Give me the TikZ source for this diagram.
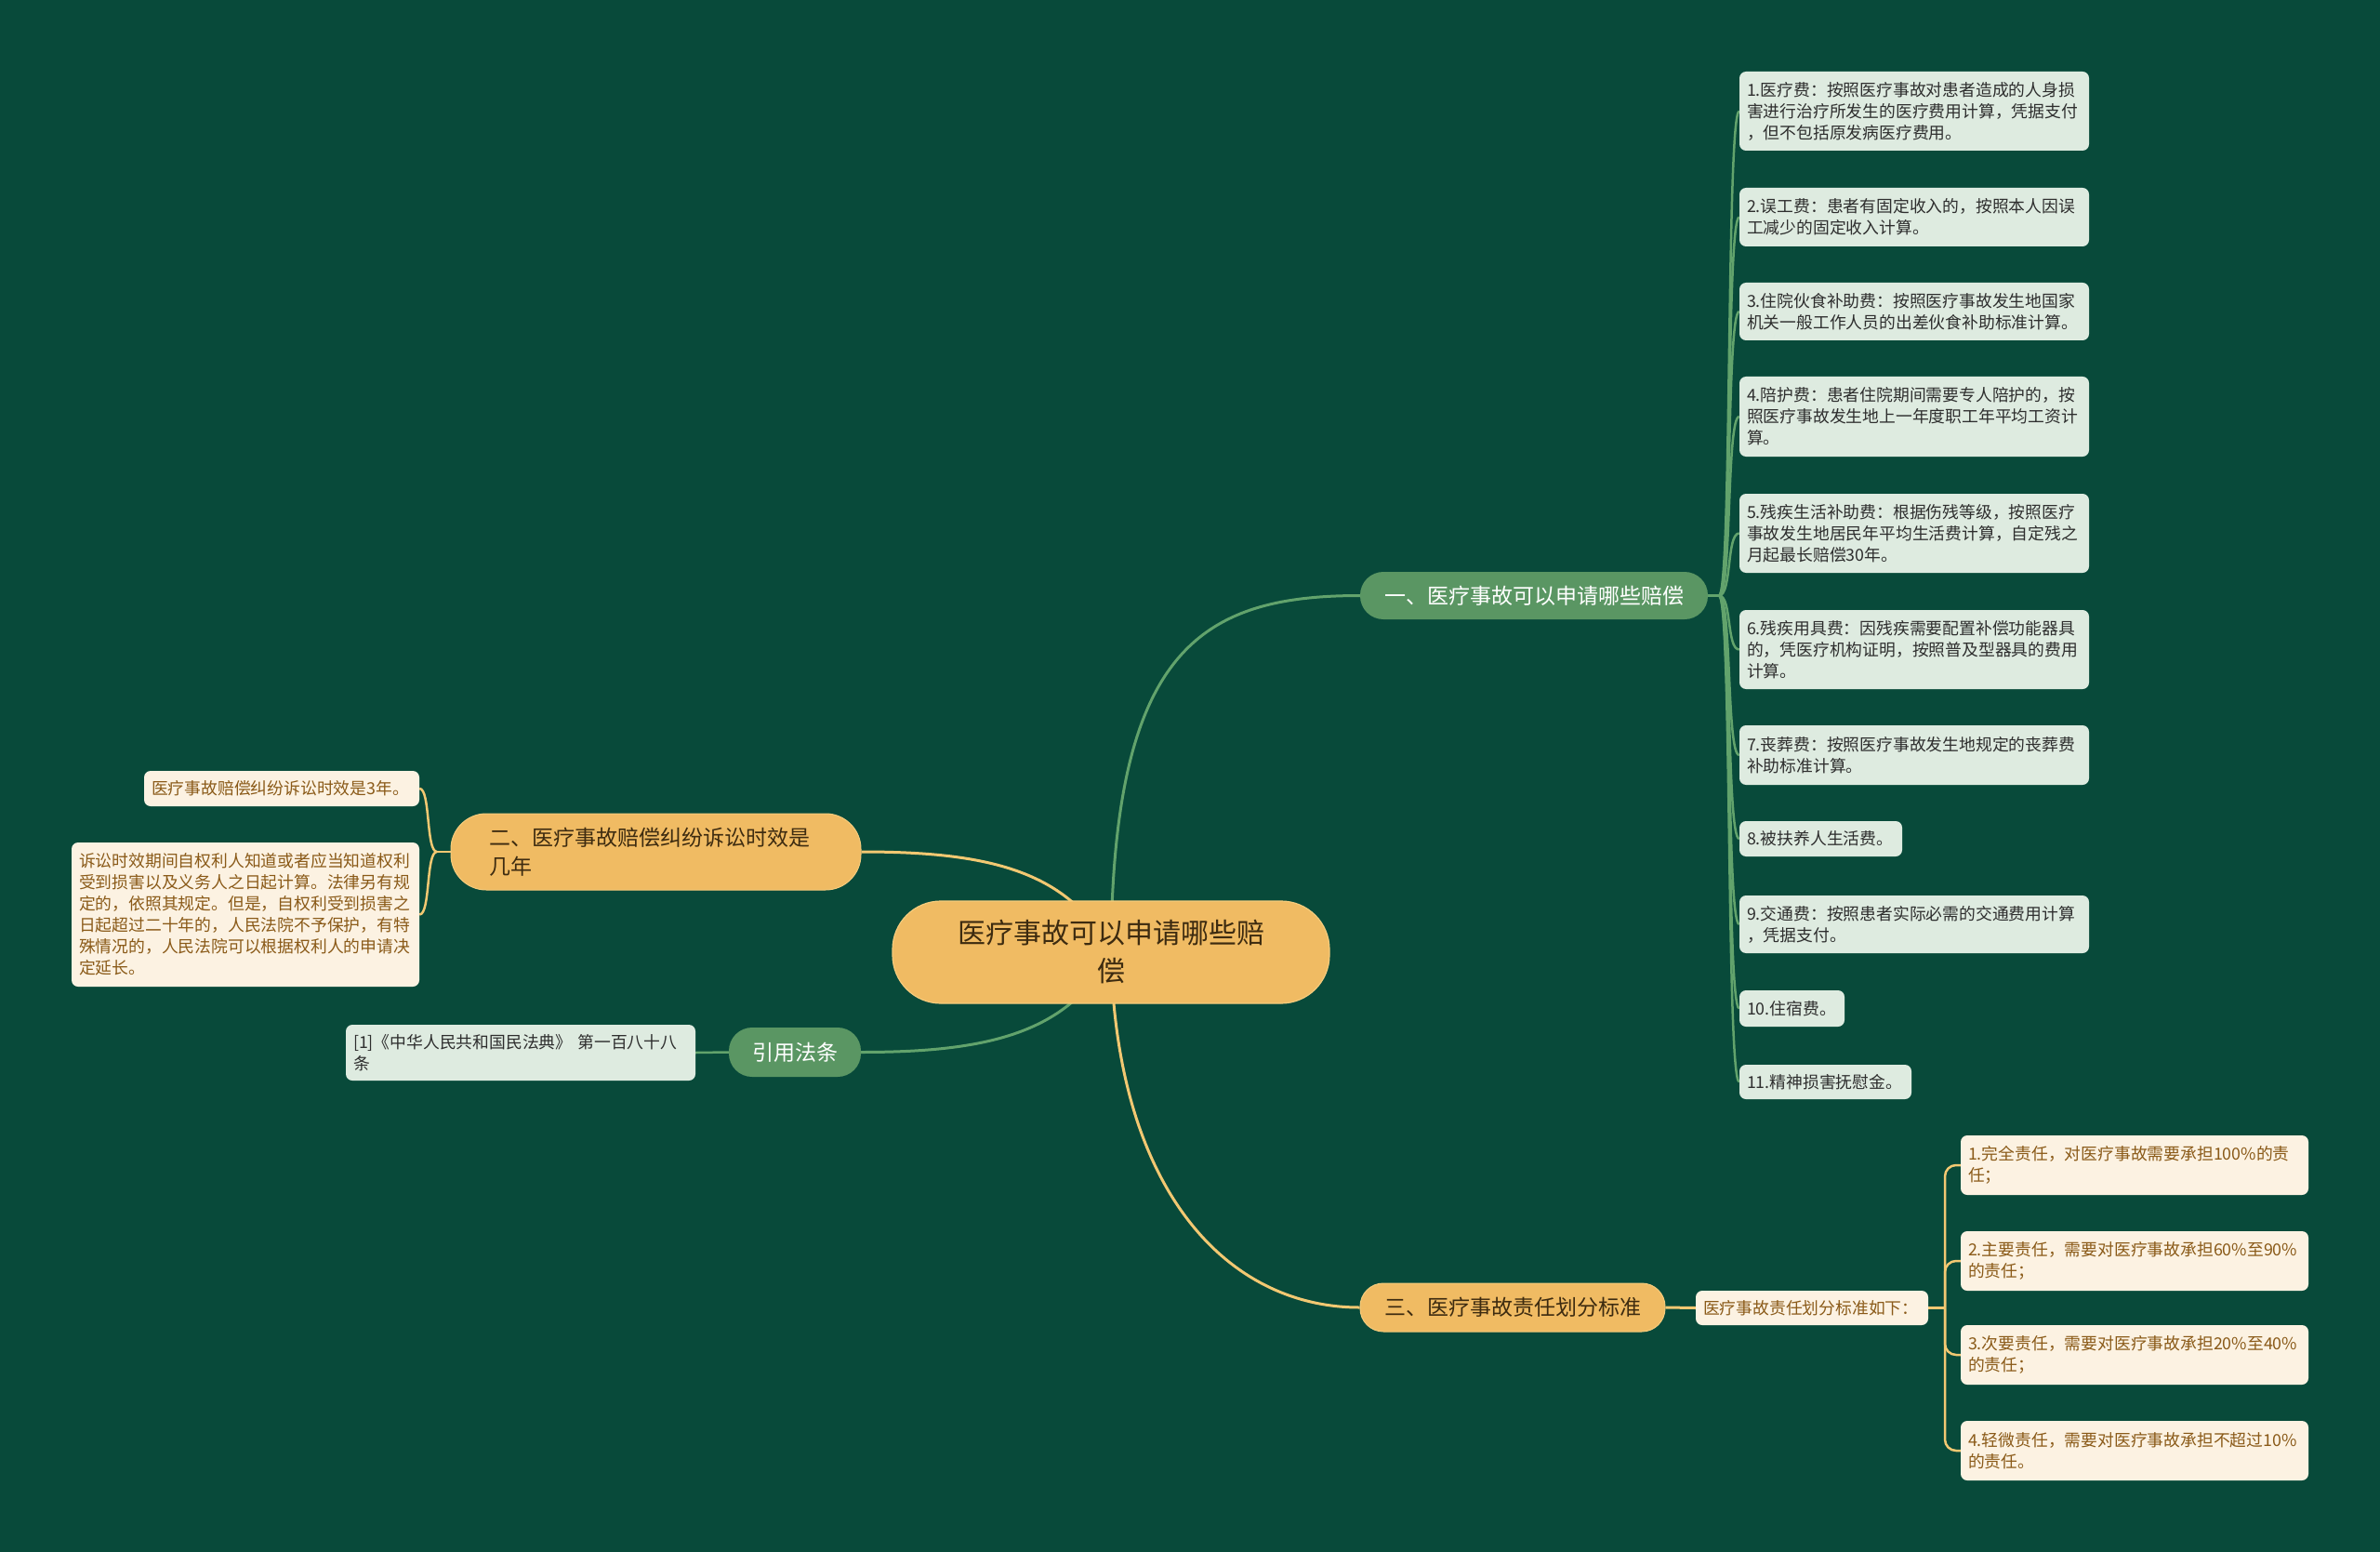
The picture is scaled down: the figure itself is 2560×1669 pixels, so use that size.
\documentclass[tikz,border=0pt]{standalone}
\usepackage{fontspec}
\setmainfont{Noto Sans CJK SC}
\definecolor{bgc}{HTML}{084A3A}
\definecolor{gfill}{HTML}{5A9663}
\definecolor{ofill}{HTML}{F0BB63}
\definecolor{oborder}{HTML}{F5CB7C}
\definecolor{otext}{HTML}{3D2B10}
\definecolor{lgfill}{HTML}{DEEBE0}
\definecolor{lgtext}{HTML}{2E2E2E}
\definecolor{lofill}{HTML}{FCF2E2}
\definecolor{lotext}{HTML}{8A5A18}
\definecolor{gline}{HTML}{62A36C}
\definecolor{oline}{HTML}{F2C872}
\pgfdeclarelayer{back}
\pgfdeclarelayer{edges}
\pgfsetlayers{back,edges,main}
\tikzset{
  rootnode/.style={rectangle, rounded corners=52, fill=ofill, draw=oborder, line width=1.2pt, text=otext,
    font=\fontsize{30}{41}\selectfont, align=center, inner sep=0pt},
  gbranch/.style={rectangle, rounded corners=25, fill=gfill, text=white,
    font=\fontsize{23}{31}\selectfont, align=center, inner sep=0pt},
  obranch/.style={rectangle, rounded corners=25, fill=ofill, draw=oborder, line width=1pt, text=otext,
    font=\fontsize{23}{31}\selectfont, align=left, inner ysep=0pt},
  leafg/.style={rectangle, rounded corners=7, fill=lgfill, text=lgtext,
    font=\fontsize{17.8}{23}\selectfont, align=left, inner xsep=8pt, inner ysep=0pt},
  leafo/.style={rectangle, rounded corners=7, fill=lofill, text=lotext,
    font=\fontsize{17.8}{23}\selectfont, align=left, inner xsep=8pt, inner ysep=0pt},
  gmain/.style={draw=gline, line width=3pt},
  omain/.style={draw=oline, line width=3pt},
  gthin/.style={draw=gline, line width=2.5pt},
  othin/.style={draw=oline, line width=2.5pt},
}
\begin{document}
\begin{tikzpicture}[x=1pt,y=-1pt]
\begin{pgfonlayer}{back}
\fill[bgc] (0,0) rectangle (2560,1669);
\end{pgfonlayer}
\useasboundingbox (0,0) rectangle (2560,1669);

% root
\node[rootnode, minimum width=470pt, minimum height=110pt] (c) at (1195,1024) {医疗事故可以申请哪些赔\\偿};

% branches
\node[gbranch, minimum width=374pt, minimum height=51pt] (b1) at (1650,640.5) {一、医疗事故可以申请哪些赔偿};
\node[obranch, inner xsep=41pt, text width=359pt, minimum height=82pt, rounded corners=38] (b2) at (705.5,916) {二、医疗事故赔偿纠纷诉讼时效是\\几年};
\node[gbranch, minimum width=142pt, minimum height=53pt] (q) at (855,1131.5) {引用法条};
\node[obranch, inner xsep=0pt, align=center, minimum width=328pt, minimum height=52pt] (b3) at (1627,1406) {三、医疗事故责任划分标准};

% right column leaves
\node[leafg, text width=360pt, minimum height=85pt] (r1) at (2059,119.5) {1.医疗费：按照医疗事故对患者造成的人身损\\害进行治疗所发生的医疗费用计算，凭据支付\\，但不包括原发病医疗费用。};
\node[leafg, text width=360pt, minimum height=63pt] (r2) at (2059,233.5) {2.误工费：患者有固定收入的，按照本人因误\\工减少的固定收入计算。};
\node[leafg, text width=360pt, minimum height=62pt] (r3) at (2059,335) {3.住院伙食补助费：按照医疗事故发生地国家\\机关一般工作人员的出差伙食补助标准计算。};
\node[leafg, text width=360pt, minimum height=86pt] (r4) at (2059,448) {4.陪护费：患者住院期间需要专人陪护的，按\\照医疗事故发生地上一年度职工年平均工资计\\算。};
\node[leafg, text width=360pt, minimum height=85pt] (r5) at (2059,573.5) {5.残疾生活补助费：根据伤残等级，按照医疗\\事故发生地居民年平均生活费计算，自定残之\\月起最长赔偿30年。};
\node[leafg, text width=360pt, minimum height=85pt] (r6) at (2059,698.5) {6.残疾用具费：因残疾需要配置补偿功能器具\\的，凭医疗机构证明，按照普及型器具的费用\\计算。};
\node[leafg, text width=360pt, minimum height=64pt] (r7) at (2059,812) {7.丧葬费：按照医疗事故发生地规定的丧葬费\\补助标准计算。};
\node[leafg, text width=159pt, minimum height=38pt] (r8) at (1958.5,902) {8.被扶养人生活费。};
\node[leafg, text width=360pt, minimum height=62pt] (r9) at (2059,994) {9.交通费：按照患者实际必需的交通费用计算\\，凭据支付。};
\node[leafg, text width=97pt, minimum height=39pt] (r10) at (1927.5,1084.5) {10.住宿费。};
\node[leafg, text width=169pt, minimum height=37pt] (r11) at (1963.5,1163.5) {11.精神损害抚慰金。};

% responsibility
\node[leafo, text width=234pt, minimum height=37pt] (m) at (1949,1406.5) {医疗事故责任划分标准如下：};
\node[leafo, text width=358pt, minimum height=64pt] (s1) at (2296,1253) {1.完全责任，对医疗事故需要承担100\%的责\\任；};
\node[leafo, text width=358pt, minimum height=64pt] (s2) at (2296,1356) {2.主要责任，需要对医疗事故承担60\%至90\%\\的责任；};
\node[leafo, text width=358pt, minimum height=64pt] (s3) at (2296,1457) {3.次要责任，需要对医疗事故承担20\%至40\%\\的责任；};
\node[leafo, text width=358pt, minimum height=64pt] (s4) at (2296,1560) {4.轻微责任，需要对医疗事故承担不超过10\%\\的责任。};

% left leaves
\node[leafo, text width=280pt, minimum height=38pt] (l1) at (303,848) {医疗事故赔偿纠纷诉讼时效是3年。};
\node[leafo, text width=358pt, minimum height=155pt] (l2) at (264,983.5) {诉讼时效期间自权利人知道或者应当知道权利\\受到损害以及义务人之日起计算。法律另有规\\定的，依照其规定。但是，自权利受到损害之\\日起超过二十年的，人民法院不予保护，有特\\殊情况的，人民法院可以根据权利人的申请决\\定延长。};
\node[leafg, text width=360pt, minimum height=60pt] (lq) at (560,1132) {[1]《中华人民共和国民法典》 第一百八十八\\条};

% junctions
\coordinate (j1) at (1849,640.5);
\coordinate (j2) at (470,916);
\coordinate (j3) at (2092,1406.5);

\begin{pgfonlayer}{edges}
% root connectors
\draw[gmain] (c.center) .. controls (1197,700) and (1290,640.5) .. (b1.west);
\draw[omain] (c.center) .. controls (1200,1280) and (1320,1406) .. (b3.west);
\draw[omain] (b2.east) .. controls (1060,916) and (1150,935) .. (c.center);
\draw[gmain] (q.east) .. controls (1060,1131.5) and (1150,1112) .. (c.center);
% branch 1 leaves
\draw[gthin] (b1.east) -- (j1);
\foreach \n in {r1,r2,r3,r4,r5,r6,r7,r8,r9,r10,r11}{
  \draw[gthin] (j1) .. controls +(14,0) and +(-14,0) .. (\n.west);
}
% branch 3
\draw[omain] (b3.east) -- (m.west);
\draw[othin] (m.east) -- (j3);
\foreach \n in {s1,s2,s3,s4}{
  \draw[othin, rounded corners=12] (j3) |- (\n.west);
}
% branch 2
\draw[othin] (b2.west) -- (j2);
\draw[othin] (j2) .. controls +(-12,0) and +(12,0) .. (l1.east);
\draw[othin] (j2) .. controls +(-12,0) and +(12,0) .. (l2.east);
% law
\draw[gthin] (q.west) -- (lq.east);
\end{pgfonlayer}
\end{tikzpicture}
\end{document}
